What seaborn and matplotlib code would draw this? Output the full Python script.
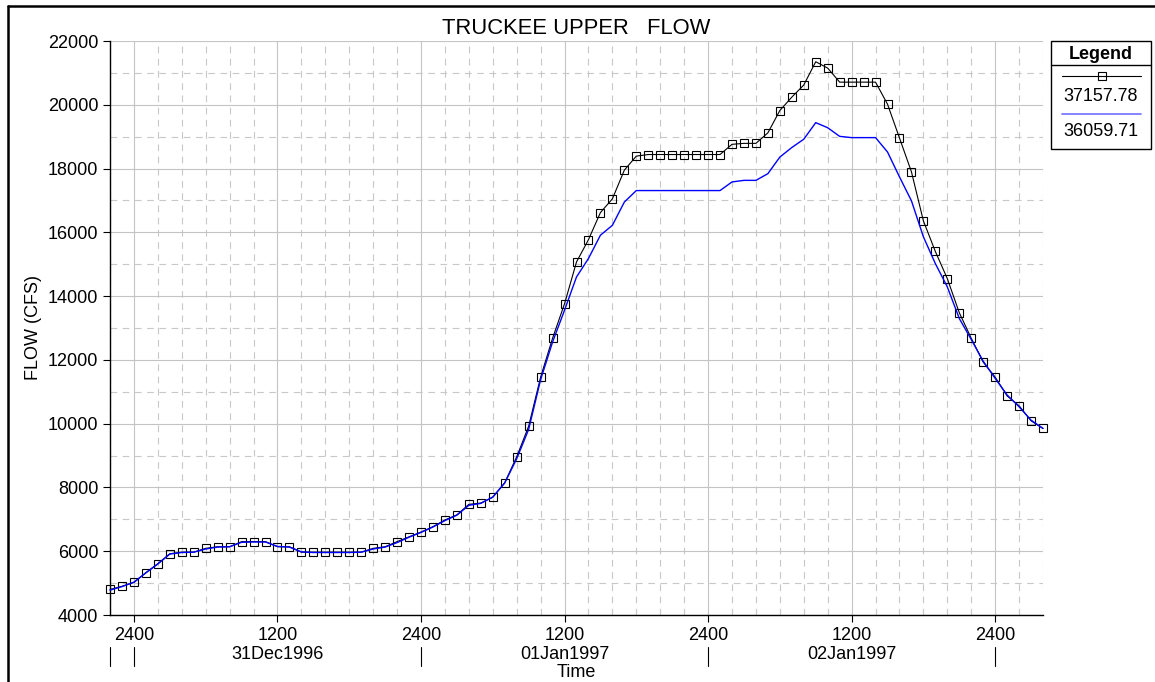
import numpy as np
import pandas as pd
import seaborn as sns
import matplotlib
matplotlib.use("Agg")
import matplotlib.pyplot as plt
import matplotlib.dates as mdates
import matplotlib.transforms as mtransforms
from matplotlib.ticker import MultipleLocator, FuncFormatter
from matplotlib.lines import Line2D
from matplotlib.patches import Rectangle

# Hourly flow series (cfs), starting 30Dec1996 2200
start_time = "1996-12-30 22:00"
flow_black = [
    4800, 4900, 5020, 5330, 5610, 5920, 5970, 5970, 6090, 6140,
    6140, 6300, 6300, 6300, 6140, 6140, 5970, 5970, 5970, 5970,
    5970, 5970, 6090, 6140, 6300, 6450, 6600, 6770, 6980, 7140,
    7470, 7510, 7690, 8150, 8960, 9920, 11460, 12680, 13760, 15070,
    15770, 16620, 17050, 17950, 18390, 18440, 18440, 18440, 18440, 18440,
    18440, 18440, 18760, 18790, 18790, 19120, 19820, 20240, 20620, 21350,
    21150, 20710, 20710, 20710, 20710, 20020, 18960, 17900, 16360, 15400,
    14550, 13480, 12680, 11930, 11460, 10870, 10560, 10090, 9850,
]
flow_blue = [
    4780, 4890, 5030, 5320, 5600, 5910, 5960, 5970, 6070, 6130,
    6140, 6280, 6290, 6290, 6150, 6130, 5980, 5960, 5960, 5960,
    5960, 5970, 6070, 6130, 6270, 6440, 6590, 6760, 6960, 7130,
    7440, 7500, 7700, 8140, 8900, 9820, 11380, 12560, 13560, 14600,
    15180, 15910, 16220, 16950, 17310, 17310, 17310, 17310, 17310, 17310,
    17310, 17310, 17580, 17630, 17630, 17840, 18360, 18660, 18920, 19440,
    19280, 19010, 18970, 18970, 18970, 18520, 17740, 16990, 15860, 15020,
    14290, 13300, 12640, 11960, 11420, 10900, 10530, 10110, 9850,
]
legend_labels = ["37157.78", "36059.71"]
title_text = "TRUCKEE UPPER   FLOW"
y_label = "FLOW (CFS)"
x_label = "Time"

times = pd.date_range(start_time, periods=len(flow_black), freq="h")
df = pd.DataFrame({"time": times, "black": flow_black, "blue": flow_blue})

sns.set_style("white")
plt.rcParams["font.family"] = ["Liberation Sans", "DejaVu Sans"]
plt.rcParams["text.color"] = "black"

W, H = 1155, 682
fig = plt.figure(figsize=(W / 100, H / 100), dpi=100)
ax = fig.add_axes([110 / W, 1 - 615 / H, (1043 - 110) / W, (615 - 41) / H])

sns.lineplot(data=df, x="time", y="black", ax=ax, color="black", lw=0.8,
             marker="s", ms=5.5, mfc="none", mec="black", mew=0.8,
             zorder=3, clip_on=False)
sns.lineplot(data=df, x="time", y="blue", ax=ax, color="#0000ff", lw=1.0,
             zorder=4, clip_on=False)

ax.set_xlim(times[0], times[-1])
ax.set_ylim(4000, 22000)
ax.set_xlabel("")
ax.set_ylabel("")

ax.xaxis.set_major_locator(mdates.HourLocator(byhour=[0, 12]))
ax.xaxis.set_minor_locator(mdates.HourLocator(byhour=range(0, 24, 2)))
ax.xaxis.set_major_formatter(
    FuncFormatter(lambda v, p: "2400" if mdates.num2date(v).hour == 0 else "1200"))
ax.yaxis.set_major_locator(MultipleLocator(2000))
ax.yaxis.set_minor_locator(MultipleLocator(1000))

ax.tick_params(axis="both", which="both", direction="out", length=5,
               width=0.8, color="black", labelsize=13, labelcolor="black")
ax.tick_params(axis="x", which="major", pad=4)
ax.tick_params(axis="y", which="major", pad=3.5)
ax.tick_params(left=True, bottom=True)

ax.grid(True, which="major", color="#c4c4c4", lw=0.8, ls="-")
ax.grid(True, which="minor", color="#c8c8c8", lw=0.8, ls=(0, (6, 5)))
ax.set_axisbelow(True)

for side in ["top", "right"]:
    ax.spines[side].set_visible(False)
for side in ["left", "bottom"]:
    ax.spines[side].set_color("black")
    ax.spines[side].set_linewidth(1.0)

# Second row of the time axis: day names and day separators
trans = mtransforms.blended_transform_factory(ax.transData, fig.transFigure)
for day in pd.date_range("1996-12-31", "1997-01-02", freq="D"):
    noon = day + pd.Timedelta(hours=12)
    ax.text(mdates.date2num(noon), 1 - 659 / H, noon.strftime("%d%b%Y"),
            transform=trans, ha="center", va="baseline", fontsize=13)
separators = [times[0]] + list(pd.date_range("1996-12-31", times[-1], freq="D"))
for s in separators:
    xs = mdates.date2num(s)
    ax.add_line(Line2D([xs, xs], [1 - 647 / H, 1 - 666 / H], transform=trans,
                       color="black", lw=0.8, clip_on=False))

fig.text(576.5 / W, 1 - 677 / H, x_label, ha="center", va="baseline", fontsize=13)
fig.text(33 / W, 1 - 328 / H, y_label, ha="center", va="center", rotation=90, fontsize=13)
fig.text(576.5 / W, 1 - 34 / H, title_text, ha="center", va="baseline", fontsize=15.8)

# Figure border (left and top edges)
fig.add_artist(Line2D([8 / W, 8 / W], [0, 1 - 6 / H], transform=fig.transFigure,
                      color="black", lw=1.8))
fig.add_artist(Line2D([8 / W, 1], [1 - 6 / H, 1 - 6 / H], transform=fig.transFigure,
                      color="black", lw=1.8))

# Legend panel
fig.add_artist(Rectangle((1051 / W, 1 - 149 / H), 100 / W, 108 / H,
                         transform=fig.transFigure, fill=False, ec="black", lw=1.0))
fig.add_artist(Line2D([1051 / W, 1151 / W], [1 - 65 / H, 1 - 65 / H],
                      transform=fig.transFigure, color="black", lw=1.0))
fig.text(1101 / W, 1 - 59 / H, "Legend", ha="center", va="baseline",
         fontsize=13, fontweight="bold")
fig.add_artist(Line2D([1062 / W, 1141 / W], [1 - 76 / H, 1 - 76 / H],
                      transform=fig.transFigure, color="black", lw=0.8))
fig.add_artist(Line2D([1101.5 / W], [1 - 76 / H], transform=fig.transFigure,
                      marker="s", ms=5.5, mfc="none", mec="black", mew=0.8, ls="none"))
fig.text(1101 / W, 1 - 101 / H, legend_labels[0], ha="center", va="baseline", fontsize=13)
fig.add_artist(Line2D([1062 / W, 1141 / W], [1 - 114 / H, 1 - 114 / H],
                      transform=fig.transFigure, color="#6f6fff", lw=1.2))
fig.text(1101 / W, 1 - 136 / H, legend_labels[1], ha="center", va="baseline", fontsize=13)

fig.savefig("out.png", dpi=100)
